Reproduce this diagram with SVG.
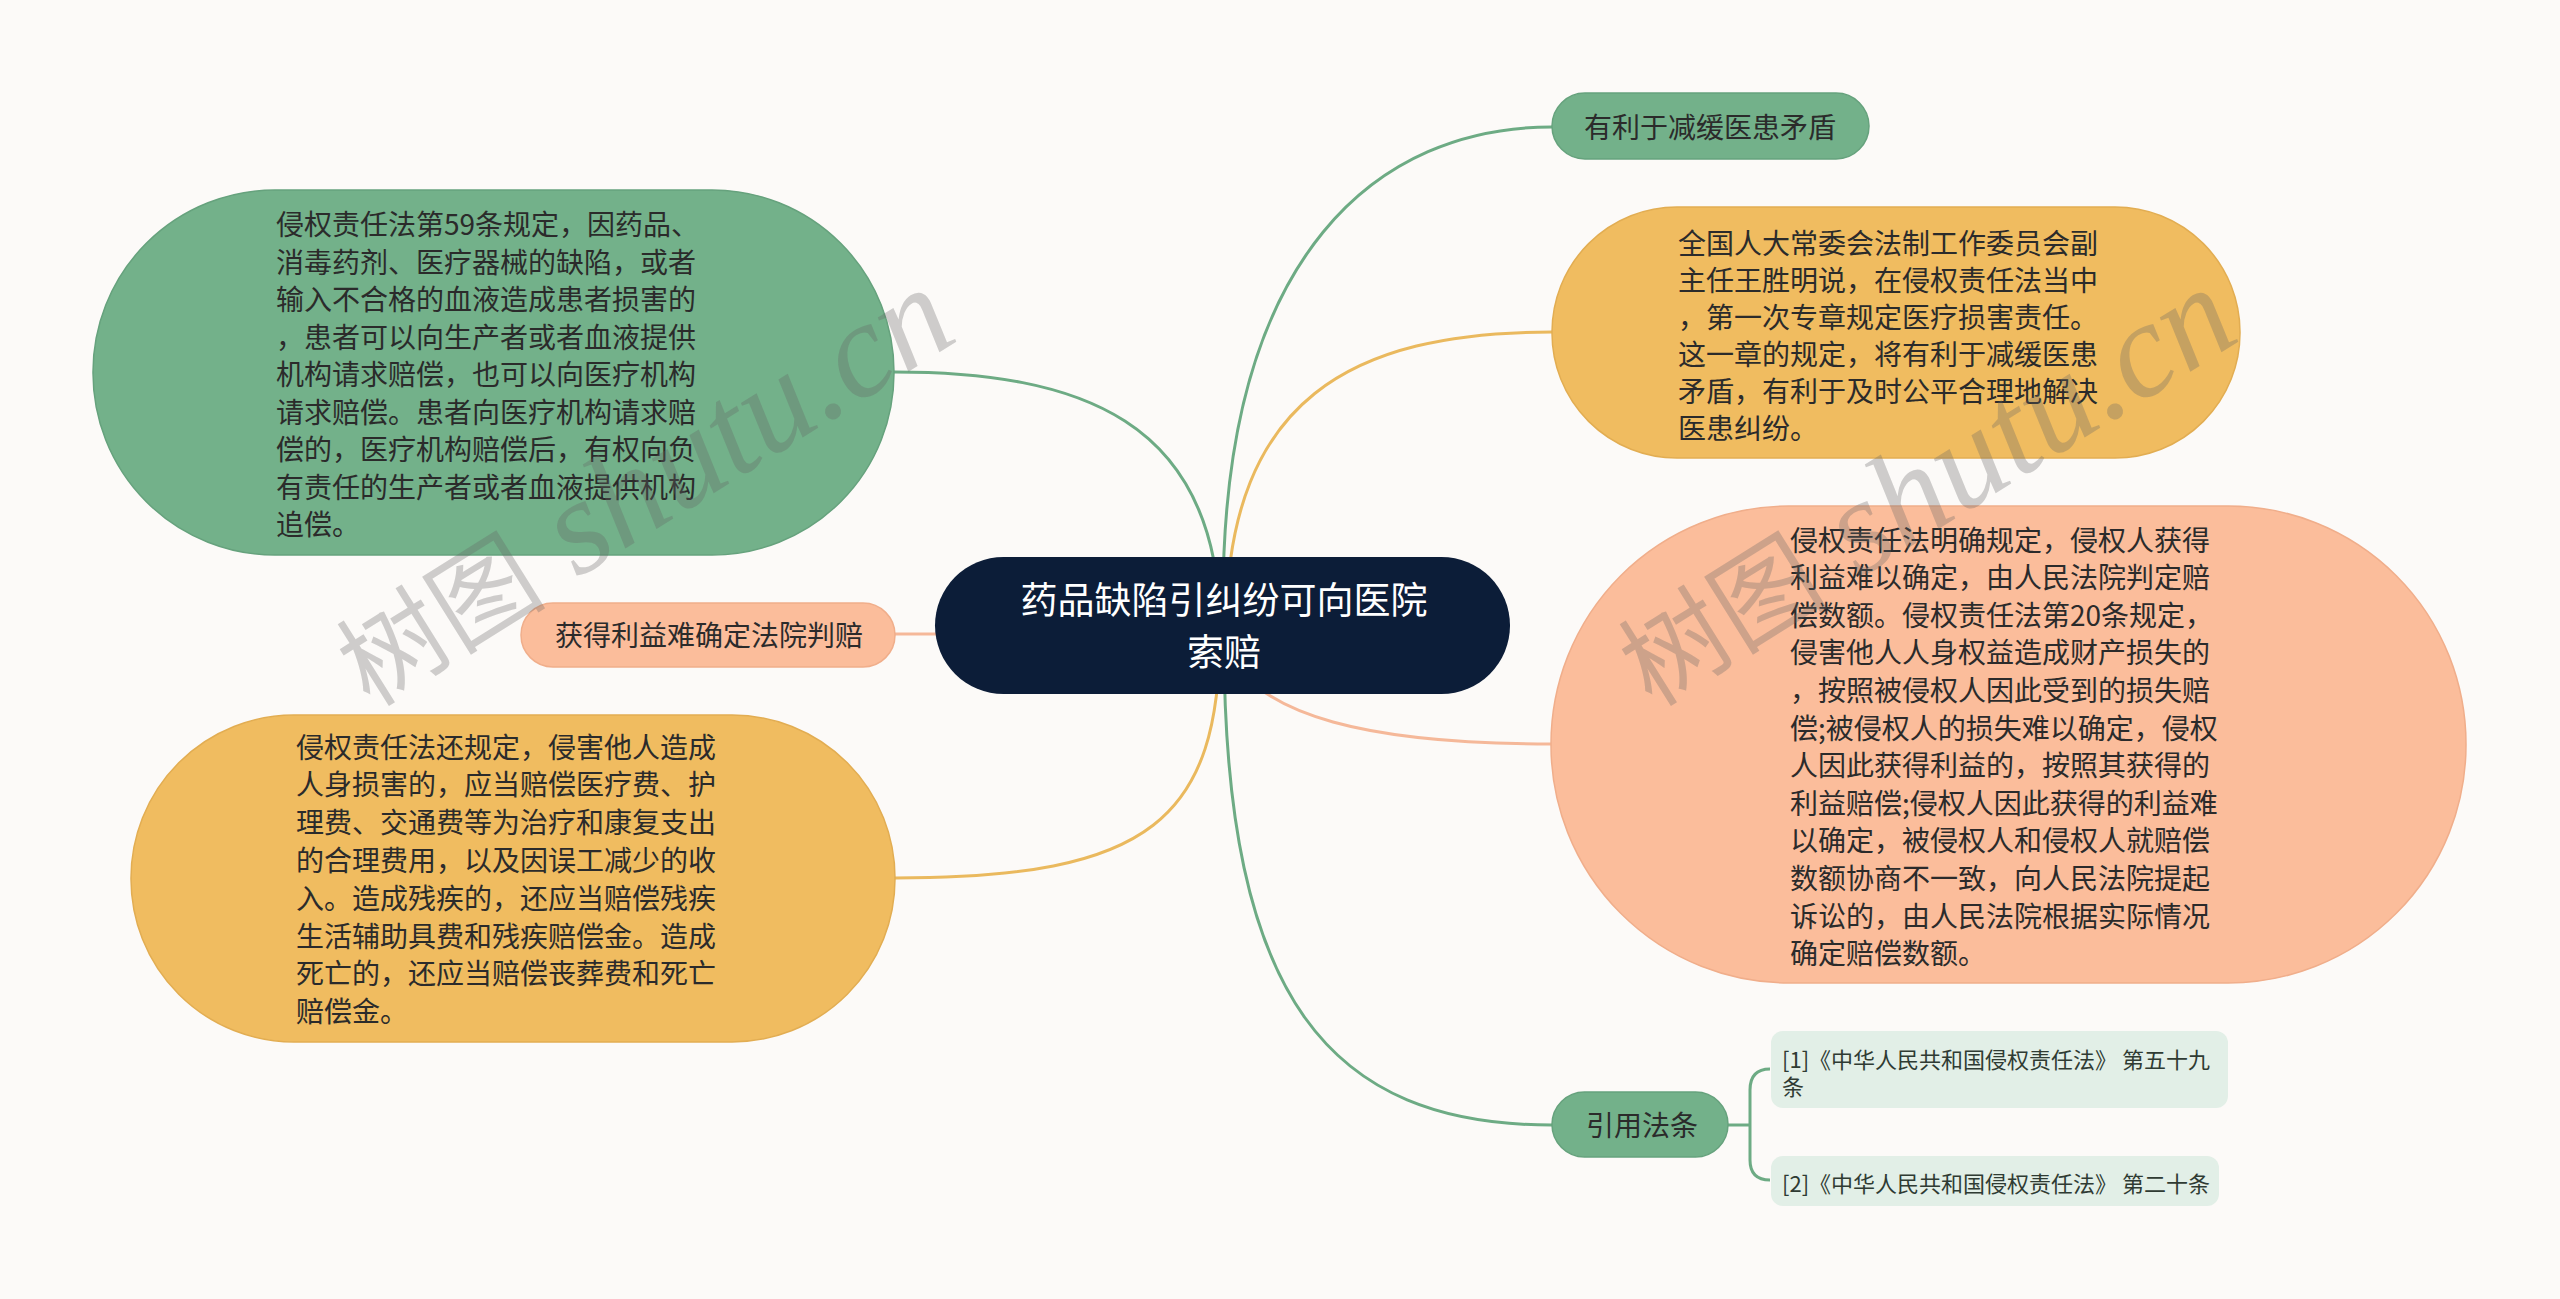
<svg xmlns="http://www.w3.org/2000/svg" width="2560" height="1299" viewBox="0 0 2560 1299">
<style>
.t{font-family:"Noto Sans CJK SC","Liberation Sans",sans-serif;font-size:28px;fill:#2b2b2b}
.c{font-family:"Noto Sans CJK SC","Liberation Sans",sans-serif;font-size:22px;fill:#2f3b33}
.ct{font-family:"Noto Sans CJK SC","Liberation Sans",sans-serif;font-size:37px;fill:#ffffff;text-anchor:middle}
.g{fill:#73b18a;stroke:#66a27d;stroke-width:1.5}
.y{fill:#f0bc60;stroke:#e2ad52;stroke-width:1.5}
.s{fill:#fbbd9b;stroke:#f0ae8b;stroke-width:1.5}
.cite{fill:#e2efe7}
.lg{fill:none;stroke:#6dab84;stroke-width:3}
.ly{fill:none;stroke:#eab95e;stroke-width:3}
.ls{fill:none;stroke:#f5b899;stroke-width:3}
.wm{font-family:"Liberation Serif","Noto Sans CJK SC",serif;fill:#646464;fill-opacity:0.3}
</style>
<rect x="0" y="0" width="2560" height="1299" fill="#fcfaf8"/>
<g id="connectors">
<path class="lg" d="M1223,600 C1223,250 1380,127 1552,127"/>
<path class="ly" d="M1226,620 C1230,400 1350,332 1552,332"/>
<path class="ls" d="M1222,640 C1250,720 1380,744 1552,744"/>
<path class="lg" d="M1224,640 C1224,1000 1330,1125 1552,1125"/>
<path class="lg" d="M1220,620 C1215,420 1080,372 894,372"/>
<path class="ly" d="M1220,630 C1220,820 1150,878 895,878"/>
<path class="ls" d="M1222,634 L895,634"/>
<path class="lg" d="M1728,1125 L1750,1125 M1770,1069 Q1750,1069 1750,1090 L1750,1160 Q1750,1180 1770,1180"/>
</g>
<g id="center">
<rect x="935" y="557" width="575" height="137" rx="68.5" ry="68.5" fill="#0c1d38"/>
<text class="ct" x="1224" y="614">药品缺陷引纠纷可向医院</text>
<text class="ct" x="1224" y="666">索赔</text>
</g>
<g id="node-left1">
<rect class="g" x="93" y="190" width="801" height="365" rx="182" ry="182"/>
<text class="t"><tspan x="276" y="235">侵权责任法第59条规定，因药品、</tspan><tspan x="276" y="272.5">消毒药剂、医疗器械的缺陷，或者</tspan><tspan x="276" y="310">输入不合格的血液造成患者损害的</tspan><tspan x="276" y="347.5">，患者可以向生产者或者血液提供</tspan><tspan x="276" y="385">机构请求赔偿，也可以向医疗机构</tspan><tspan x="276" y="422.5">请求赔偿。患者向医疗机构请求赔</tspan><tspan x="276" y="460">偿的，医疗机构赔偿后，有权向负</tspan><tspan x="276" y="497.5">有责任的生产者或者血液提供机构</tspan><tspan x="276" y="535">追偿。</tspan></text>
</g>
<g id="node-left2">
<rect class="s" x="521" y="603" width="374" height="64" rx="32" ry="32"/>
<text class="t" x="555" y="645.5">获得利益难确定法院判赔</text>
</g>
<g id="node-left3">
<rect class="y" x="131" y="715" width="764" height="327" rx="163" ry="163"/>
<text class="t"><tspan x="296" y="757.5">侵权责任法还规定，侵害他人造成</tspan><tspan x="296" y="795.3">人身损害的，应当赔偿医疗费、护</tspan><tspan x="296" y="833.1">理费、交通费等为治疗和康复支出</tspan><tspan x="296" y="870.9">的合理费用，以及因误工减少的收</tspan><tspan x="296" y="908.7">入。造成残疾的，还应当赔偿残疾</tspan><tspan x="296" y="946.5">生活辅助具费和残疾赔偿金。造成</tspan><tspan x="296" y="984.3">死亡的，还应当赔偿丧葬费和死亡</tspan><tspan x="296" y="1022.1">赔偿金。</tspan></text>
</g>
<g id="node-right1">
<rect class="g" x="1552" y="93" width="317" height="66" rx="33" ry="33"/>
<text class="t" x="1584" y="137.5">有利于减缓医患矛盾</text>
</g>
<g id="node-right2">
<rect class="y" x="1552" y="207" width="688" height="251" rx="125" ry="125"/>
<text class="t"><tspan x="1678" y="254">全国人大常委会法制工作委员会副</tspan><tspan x="1678" y="291">主任王胜明说，在侵权责任法当中</tspan><tspan x="1678" y="328">，第一次专章规定医疗损害责任。</tspan><tspan x="1678" y="365">这一章的规定，将有利于减缓医患</tspan><tspan x="1678" y="402">矛盾，有利于及时公平合理地解决</tspan><tspan x="1678" y="439">医患纠纷。</tspan></text>
</g>
<g id="node-right3">
<rect class="s" x="1551" y="506" width="915" height="477" rx="238" ry="238"/>
<text class="t"><tspan x="1790" y="550.6">侵权责任法明确规定，侵权人获得</tspan><tspan x="1790" y="588.2">利益难以确定，由人民法院判定赔</tspan><tspan x="1790" y="625.8">偿数额。侵权责任法第20条规定，</tspan><tspan x="1790" y="663.4">侵害他人人身权益造成财产损失的</tspan><tspan x="1790" y="701">，按照被侵权人因此受到的损失赔</tspan><tspan x="1790" y="738.6">偿;被侵权人的损失难以确定，侵权</tspan><tspan x="1790" y="776.2">人因此获得利益的，按照其获得的</tspan><tspan x="1790" y="813.8">利益赔偿;侵权人因此获得的利益难</tspan><tspan x="1790" y="851.4">以确定，被侵权人和侵权人就赔偿</tspan><tspan x="1790" y="889">数额协商不一致，向人民法院提起</tspan><tspan x="1790" y="926.6">诉讼的，由人民法院根据实际情况</tspan><tspan x="1790" y="964.2">确定赔偿数额。</tspan></text>
</g>
<g id="node-right4">
<rect class="g" x="1552" y="1092" width="176" height="65" rx="32.5" ry="32.5"/>
<text class="t" x="1586" y="1135.5">引用法条</text>
</g>
<g id="cite1">
<rect class="cite" x="1771" y="1031" width="457" height="77" rx="12" ry="12"/>
<text class="c"><tspan x="1782" y="1068">[1]《中华人民共和国侵权责任法》 第五十九</tspan><tspan x="1782" y="1095">条</tspan></text>
</g>
<g id="cite2">
<rect class="cite" x="1771" y="1156" width="448" height="50" rx="12" ry="12"/>
<text class="c" x="1782" y="1191.5">[2]《中华人民共和国侵权责任法》 第二十条</text>
</g>
<g id="watermark">
<text class="wm" transform="translate(370,708) rotate(-32)"><tspan font-size="105">树图</tspan><tspan font-size="135" font-style="italic"> shutu.cn</tspan></text>
<text class="wm" transform="translate(1652,708) rotate(-32)"><tspan font-size="105">树图</tspan><tspan font-size="135" font-style="italic"> shutu.cn</tspan></text>
</g>
</svg>
